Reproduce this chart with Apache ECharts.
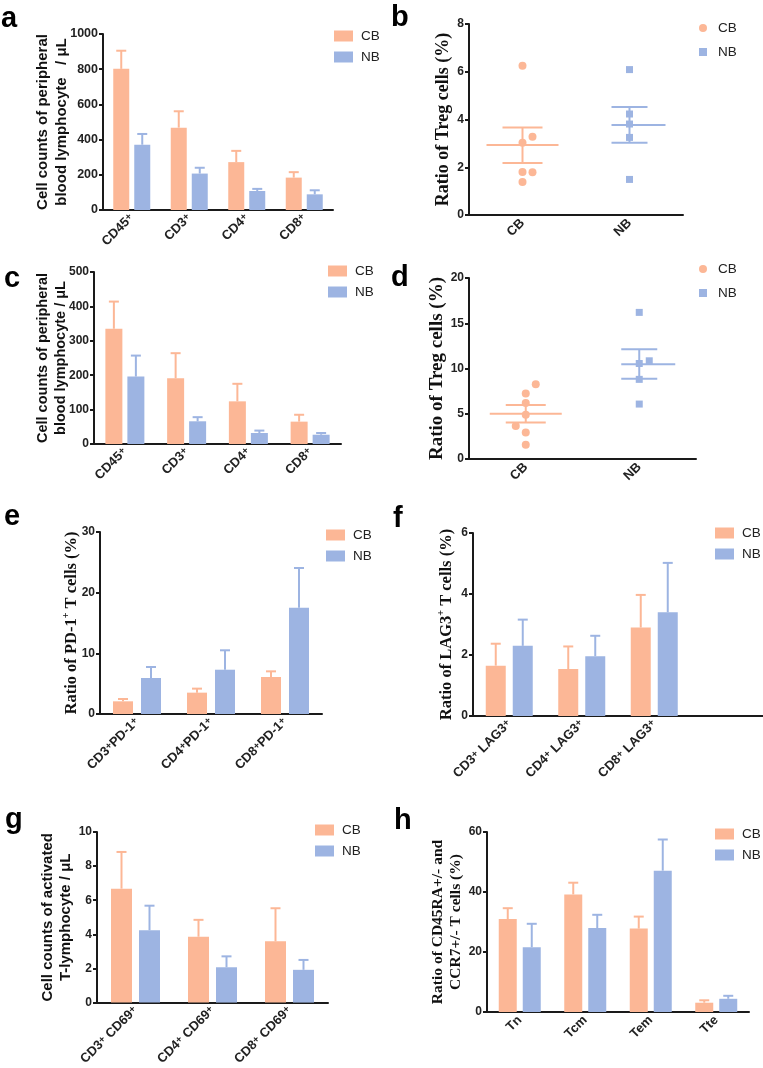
<!DOCTYPE html>
<html>
<head>
<meta charset="utf-8">
<script src="https://cdn.jsdelivr.net/npm/echarts@6/dist/echarts.min.js"></script>
<style>
  html, body { margin: 0; padding: 0; background: #fff; }
  #chart { width: 763px; height: 1068px; }
</style>
</head>
<body>
<div id="chart"></div>
<script>
// ---- data ----
const groupNames = ['CB', 'NB'];

// a: cell counts of peripheral blood lymphocyte / uL
const countCats = ['CD45+', 'CD3+', 'CD4+', 'CD8+'];
const aCB = [802, 468, 272, 184];
const aCBErr = [103, 93, 64, 31];
const aNB = [371, 207, 108, 89];
const aNBErr = [61, 33, 12, 23];

// b: ratio of Treg cells (%)
const tregCats = ['CB', 'NB'];
const bCB = [6.25, 3.03, 3.28, 1.80, 1.79, 1.38];
const bCBJitter = [0, 0, 10, 0, 10, 0];
const bNB = [6.09, 4.23, 3.81, 3.25, 1.49];
const bNBJitter = [0, 0, 0, 0, 0];
const bCBStats = [2.93, 2.18, 3.67];   // mean, mean-sem, mean+sem
const bNBStats = [3.77, 3.03, 4.52];

// c: cell counts of peripheral blood lymphocyte / uL
const cCB = [335, 191, 124, 65];
const cCBErr = [79, 73, 51, 20];
const cNB = [196, 66, 32, 27];
const cNBErr = [61, 12, 7, 5];

// d: ratio of Treg cells (%)
const dCB = [8.27, 7.24, 6.18, 4.9, 3.64, 2.94, 1.58];
const dCBJitter = [10, 0, 0, 0, -10, 0, 0];
const dNB = [16.2, 10.85, 10.55, 8.8, 6.07];
const dNBJitter = [0, 10, 0, 0, 0];
const dCBStats = [5.0, 4.04, 5.96];
const dNBStats = [10.48, 8.86, 12.13];

// e: ratio of PD-1+ T cells (%)
const pdCats = ['CD3+PD-1+', 'CD4+PD-1+', 'CD8+PD-1+'];
const eCB = [2.09, 3.52, 6.1];
const eCBErr = [0.38, 0.66, 0.93];
const eNB = [5.93, 7.3, 17.5];
const eNBErr = [1.82, 3.2, 6.57];

// f: ratio of LAG3+ T cells (%)
const lagCats = ['CD3+ LAG3+', 'CD4+ LAG3+', 'CD8+ LAG3+', ''];
const fCB = [1.65, 1.54, 2.9];
const fCBErr = [0.72, 0.74, 1.07];
const fNB = [2.3, 1.96, 3.4];
const fNBErr = [0.86, 0.67, 1.62];

// g: cell counts of activated T-lymphocyte / uL
const cd69Cats = ['CD3+ CD69+', 'CD4+ CD69+', 'CD8+ CD69+'];
const gCB = [6.68, 3.86, 3.59];
const gCBErr = [2.15, 0.99, 1.94];
const gNB = [4.24, 2.07, 1.92];
const gNBErr = [1.44, 0.64, 0.58];

// h: ratio of CD45RA+/- and CCR7+/- T cells (%)
const subsetCats = ['Tn', 'Tcm', 'Tem', 'Tte'];
const hCB = [31.0, 39.2, 27.8, 3.1];
const hCBErr = [3.6, 3.9, 4.0, 0.8];
const hNB = [21.6, 28.0, 47.1, 4.4];
const hNBErr = [7.8, 4.4, 10.4, 1.0];

// ---- style ----
const CB_COLOR = '#fcb796';
const NB_COLOR = '#9db4e2';
const AXIS_COLOR = '#1a1a1a';
const SANS = '"Liberation Sans", Arial, sans-serif';
const SERIF = '"Liberation Serif", "Times New Roman", serif';

const supText = s => s.replace(/\+/g, '{sup|+}');

const option = {
    backgroundColor: '#fff',
    animation: false,
    grid: [],
    xAxis: [],
    yAxis: [],
    legend: [],
    series: [],
    graphic: []
};

function addAxes(p, cats) {
    const gi = option.grid.length;
    option.grid.push(Object.assign({ containLabel: false }, p.grid));
    option.xAxis.push({
        gridIndex: gi,
        type: 'category',
        data: cats,
        axisLine: { lineStyle: { color: AXIS_COLOR, width: 2 } },
        axisTick: {
            alignWithLabel: true, length: 4,
            lineStyle: { color: AXIS_COLOR, width: 2 },
            interval: (i, v) => v !== ''
        },
        axisLabel: {
            rotate: 45, margin: 6, interval: 0,
            color: '#222', fontFamily: SANS, fontWeight: 'bold', fontSize: p.xLabelSize || 13,
            formatter: v => supText(v),
            rich: { sup: { fontSize: 10, fontWeight: 'bold', fontFamily: SANS, color: '#222', verticalAlign: 'top' } }
        }
    });
    option.yAxis.push({
        gridIndex: gi,
        type: 'value',
        min: 0, max: p.max, interval: p.interval,
        name: p.name,
        nameLocation: 'middle',
        nameRotate: 90,
        nameGap: p.nameGap,
        nameMoveOverlap: false,
        nameTextStyle: {
            fontFamily: p.serif ? SERIF : SANS,
            fontWeight: 'bold', fontSize: p.nameSize, color: '#111',
            lineHeight: p.nameLine || p.nameSize + 3,
            align: 'center',
            rich: { sup: { fontFamily: p.serif ? SERIF : SANS, fontWeight: 'bold', fontSize: Math.round(p.nameSize * 0.62), color: '#111', verticalAlign: 'top' } }
        },
        axisLine: { show: true, lineStyle: { color: AXIS_COLOR, width: 2 } },
        axisTick: { show: true, length: 4, lineStyle: { color: AXIS_COLOR, width: 2 } },
        splitLine: { show: false },
        axisLabel: {
            color: '#222', fontFamily: SANS, fontWeight: 'bold', fontSize: p.yLabelSize || 12, margin: 5,
            formatter: v => String(v)
        }
    });
    option.graphic.push({
        type: 'text', left: p.letter.x, top: p.letter.y,
        style: { text: p.letter.t, font: 'bold 29px ' + SANS, fill: '#000' }
    });
    return gi;
}

function errSeries(gi, vals, errs, color, side, barW, gap) {
    return {
        type: 'custom', xAxisIndex: gi, yAxisIndex: gi, silent: true, z: 3,
        data: vals.map((v, i) => [i, v, v + errs[i]]),
        encode: { x: 0, y: [1, 2] },
        renderItem: (params, api) => {
            const base = api.coord([api.value(0), api.value(1)]);
            const top = api.coord([api.value(0), api.value(2)]);
            const x = base[0] + side * (barW + gap) / 2;
            const st = { stroke: color, lineWidth: 2 };
            return {
                type: 'group', children: [
                    { type: 'line', shape: { x1: x, y1: base[1], x2: x, y2: top[1] }, style: st },
                    { type: 'line', shape: { x1: x - 5, y1: top[1], x2: x + 5, y2: top[1] }, style: st }
                ]
            };
        }
    };
}

function barPanel(p) {
    const gi = addAxes(p, p.cats);
    const gapPct = (p.gap / p.barW * 100) + '%';
    option.series.push(
        { type: 'bar', name: 'CB', xAxisIndex: gi, yAxisIndex: gi, data: p.cb, barWidth: p.barW, barGap: gapPct, itemStyle: { color: CB_COLOR }, silent: true },
        { type: 'bar', name: 'NB', xAxisIndex: gi, yAxisIndex: gi, data: p.nb, barWidth: p.barW, barGap: gapPct, itemStyle: { color: NB_COLOR }, silent: true },
        errSeries(gi, p.cb, p.cbErr, CB_COLOR, -1, p.barW, p.gap),
        errSeries(gi, p.nb, p.nbErr, NB_COLOR, 1, p.barW, p.gap)
    );
    option.legend.push({
        orient: 'vertical', left: p.legend.left, top: p.legend.top, padding: 0,
        itemWidth: 19, itemHeight: 11, itemGap: 7, selectedMode: false,
        textStyle: { fontFamily: SANS, fontSize: 13.5, color: '#222', padding: [0, 0, 0, 3] },
        data: [{ name: 'CB', icon: 'rect' }, { name: 'NB', icon: 'rect' }]
    });
}

function statSeries(gi, ci, stats, color, ml, mr, sl, sr) {
    return {
        type: 'custom', xAxisIndex: gi, yAxisIndex: gi, silent: true, z: 3,
        data: [[ci].concat(stats)],
        encode: { x: 0, y: [1, 2, 3] },
        renderItem: (params, api) => {
            const m = api.coord([api.value(0), api.value(1)]);
            const lo = api.coord([api.value(0), api.value(2)]);
            const hi = api.coord([api.value(0), api.value(3)]);
            const x = m[0];
            const st = { stroke: color, lineWidth: 2 };
            return {
                type: 'group', children: [
                    { type: 'line', shape: { x1: x - ml, y1: m[1], x2: x + mr, y2: m[1] }, style: st },
                    { type: 'line', shape: { x1: x, y1: lo[1], x2: x, y2: hi[1] }, style: st },
                    { type: 'line', shape: { x1: x - sl, y1: lo[1], x2: x + sr, y2: lo[1] }, style: st },
                    { type: 'line', shape: { x1: x - sl, y1: hi[1], x2: x + sr, y2: hi[1] }, style: st }
                ]
            };
        }
    };
}

function dotPanel(p) {
    const gi = addAxes(p, tregCats);
    option.series.push(
        {
            type: 'scatter', name: 'CB', xAxisIndex: gi, yAxisIndex: gi, symbol: 'circle', symbolSize: 8,
            itemStyle: { color: CB_COLOR, opacity: 1 }, silent: true, z: 4,
            data: p.cb.map((v, k) => ({ value: [0, v], symbolOffset: [p.cbJit[k], 0] }))
        },
        {
            type: 'scatter', name: 'NB', xAxisIndex: gi, yAxisIndex: gi, symbol: 'rect', symbolSize: 7,
            itemStyle: { color: NB_COLOR, opacity: 1 }, silent: true, z: 4,
            data: p.nb.map((v, k) => ({ value: [1, v], symbolOffset: [p.nbJit[k], 0] }))
        },
        statSeries(gi, 0, p.cbStats, CB_COLOR, 36, 36, 20, 20),
        statSeries(gi, 1, p.nbStats, NB_COLOR, 18, 36, 18, 18)
    );
    option.legend.push({
        orient: 'vertical', left: p.legend.left, top: p.legend.top, padding: 0,
        itemWidth: 8, itemHeight: 8, itemGap: 10, selectedMode: false,
        textStyle: { fontFamily: SANS, fontSize: 13.5, color: '#222', padding: [0, 0, 0, 6] },
        data: [{ name: 'CB', icon: 'circle' }, { name: 'NB', icon: 'rect' }]
    });
}

barPanel({
    grid: { left: 103, top: 34, width: 230, height: 176 },
    cats: countCats, cb: aCB, cbErr: aCBErr, nb: aNB, nbErr: aNBErr,
    max: 1000, interval: 200, yLabelSize: 12.5,
    name: 'Cell counts of peripheral\nblood lymphocyte   / \u03bcL', nameSize: 15, nameLine: 19, nameGap: 32,
    barW: 16, gap: 5, legend: { left: 334, top: 29 }, letter: { t: 'a', x: 1, y: 4 }
});
dotPanel({
    grid: { left: 469, top: 24, width: 214, height: 191 },
    cb: bCB, cbJit: bCBJitter, nb: bNB, nbJit: bNBJitter, cbStats: bCBStats, nbStats: bNBStats,
    max: 8, interval: 2, serif: true,
    name: 'Ratio of Treg cells (%)', nameSize: 18, nameGap: 15,
    legend: { left: 699, top: 21 }, letter: { t: 'b', x: 391, y: 3 }
});
barPanel({
    grid: { left: 94, top: 272, width: 247, height: 172 },
    cats: countCats, cb: cCB, cbErr: cCBErr, nb: cNB, nbErr: cNBErr,
    max: 500, interval: 100,
    name: 'Cell counts of peripheral\nblood lymphocyte / \u03bcL', nameSize: 14.5, nameLine: 18, nameGap: 24,
    barW: 17, gap: 5, legend: { left: 328, top: 264 }, letter: { t: 'c', x: 4, y: 264 }
});
dotPanel({
    grid: { left: 469, top: 278, width: 227, height: 181 },
    cb: dCB, cbJit: dCBJitter, nb: dNB, nbJit: dNBJitter, cbStats: dCBStats, nbStats: dNBStats,
    max: 20, interval: 5, serif: true,
    name: 'Ratio of Treg cells (%)', nameSize: 19, nameGap: 21,
    legend: { left: 699, top: 262 }, letter: { t: 'd', x: 391, y: 263 }
});
barPanel({
    grid: { left: 100, top: 532, width: 222, height: 182 },
    cats: pdCats, cb: eCB, cbErr: eCBErr, nb: eNB, nbErr: eNBErr,
    max: 30, interval: 10, serif: true,
    name: 'Ratio of PD-1{sup|+} T cells (%)', nameSize: 16.5, nameGap: 19,
    barW: 20, gap: 8, legend: { left: 326, top: 528 }, letter: { t: 'e', x: 4, y: 502 }
});
barPanel({
    grid: { left: 473, top: 533, width: 298, height: 183 },
    cats: lagCats, cb: fCB, cbErr: fCBErr, nb: fNB, nbErr: fNBErr,
    max: 6, interval: 2, serif: true,
    name: 'Ratio of LAG3{sup|+} T cells (%)', nameSize: 16.5, nameGap: 17,
    barW: 20, gap: 7, legend: { left: 715, top: 526 }, letter: { t: 'f', x: 393, y: 504 }
});
barPanel({
    grid: { left: 97, top: 832, width: 231, height: 174 },
    cats: cd69Cats, cb: gCB, cbErr: gCBErr, nb: gNB, nbErr: gNBErr,
    max: 10, interval: 2,
    name: 'Cell counts of activated\nT-lymphocyte / \u03bcL', nameSize: 15, nameLine: 18, nameGap: 22,
    barW: 21, gap: 7, legend: { left: 315, top: 823 }, letter: { t: 'g', x: 5, y: 805 }
});
barPanel({
    grid: { left: 487, top: 832, width: 262, height: 180 },
    cats: subsetCats, cb: hCB, cbErr: hCBErr, nb: hNB, nbErr: hNBErr,
    max: 60, interval: 20, serif: true,
    name: 'Ratio of CD45RA+/- and\nCCR7+/- T cells (%)', nameSize: 15.5, nameLine: 18, nameGap: 22,
    barW: 18, gap: 6, legend: { left: 715, top: 827 }, letter: { t: 'h', x: 394, y: 806 }
});

const chart = echarts.init(document.getElementById('chart'), null, { renderer: 'canvas' });
chart.setOption(option);
</script>
</body>
</html>
